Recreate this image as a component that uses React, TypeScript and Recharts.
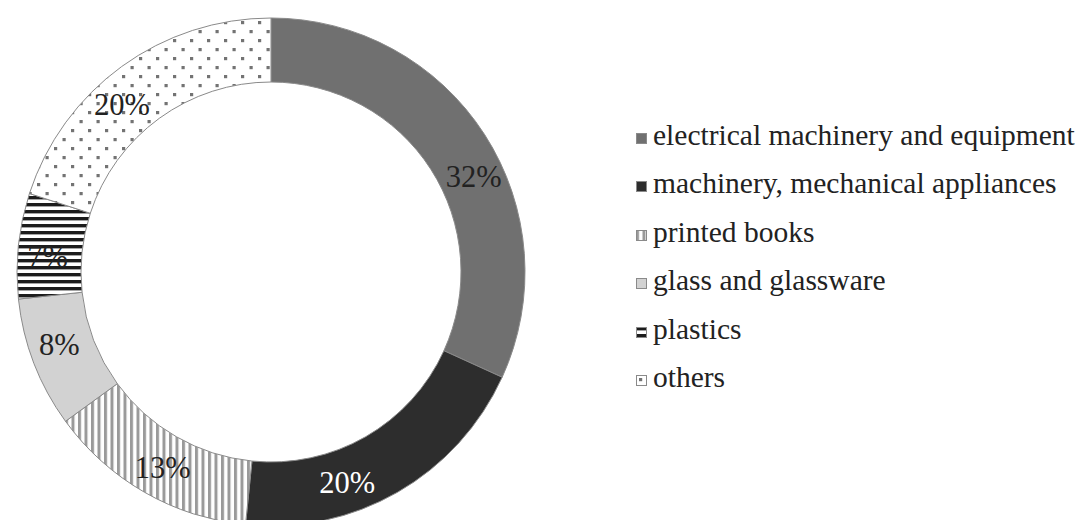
import { PieChart, Pie, Cell, Legend } from 'recharts';

const categories = [
  'electrical machinery and equipment',
  'machinery, mechanical appliances',
  'printed books',
  'glass and glassware',
  'plastics',
  'others',
];
const shares = [31.8, 19.8, 13.4, 8.3, 6.7, 20.0];

const FILLS = ['#707070', '#2d2d2d', 'url(#vstripe)', '#d2d2d2', 'url(#hstripe)', 'url(#dots)'];
const LABEL_COLORS = ['#222', '#fff', '#222', '#222', '#222', '#222'];
// Excel pushes some labels a bit off the slice middle (degrees, clockwise)
const LABEL_TURN = [7.6, 10, -1, 2, -2, -5.7];

const data = categories.map((name, i) => ({ name, value: shares[i] }));

const FONT = 'Liberation Serif, DejaVu Serif, Times New Roman, Times, serif';
const RAD = Math.PI / 180;

const renderLabel = (props: any) => {
  const { cx, cy, midAngle, innerRadius, outerRadius, percent, index } = props;
  const r = (innerRadius + outerRadius) / 2 + 2;
  const a = (midAngle - LABEL_TURN[index]) * RAD;
  const x = cx + r * Math.cos(a);
  const y = cy - r * Math.sin(a);
  return (
    <text
      x={x}
      y={y}
      textAnchor="middle"
      dominantBaseline="central"
      fill={LABEL_COLORS[index]}
      fontFamily={FONT}
      fontSize={30.5}
    >
      {`${Math.round(percent * 100)}%`}
    </text>
  );
};

const LegendList = () => (
  <div style={{ fontFamily: FONT, fontSize: 29.5, color: '#222' }}>
    {data.map((d, i) => (
      <div key={d.name} style={{ height: 48.5, display: 'flex', alignItems: 'center', whiteSpace: 'nowrap' }}>
        <svg width={11} height={11} style={{ marginRight: 6, marginTop: 6 }}>
          <rect x={0.5} y={0.5} width={10} height={10} fill={FILLS[i]} stroke="#8a8a8a" />
        </svg>
        <span>{d.name}</span>
      </div>
    ))}
  </div>
);

export default function App() {
  return (
    <div style={{ position: 'absolute', left: 0, top: 0, background: '#fff' }}>
      <PieChart width={1077} height={520}>
        <defs>
          <pattern id="vstripe" width={6.5} height={6} patternUnits="userSpaceOnUse">
            <rect width={6.5} height={6} fill="#fff" />
            <rect x={0} y={0} width={3} height={6} fill="#9a9a9a" />
          </pattern>
          <pattern id="hstripe" width={6} height={7} patternUnits="userSpaceOnUse">
            <rect width={6} height={7} fill="#fff" />
            <rect x={0} y={0} width={6} height={3.4} fill="#1c1c1c" />
          </pattern>
          <pattern id="dots" width={17} height={18} patternUnits="userSpaceOnUse">
            <rect width={17} height={18} fill="#fff" />
            <rect x={3} y={3} width={3.2} height={3.2} fill="#737373" />
            <rect x={11.5} y={12} width={3.2} height={3.2} fill="#737373" />
          </pattern>
        </defs>
        <Pie
          data={data}
          dataKey="value"
          nameKey="name"
          cx={266}
          cy={267}
          innerRadius={190}
          outerRadius={254}
          startAngle={90}
          endAngle={-270}
          stroke="#8a8a8a"
          strokeWidth={1}
          labelLine={false}
          label={renderLabel}
          isAnimationActive={false}
        >
          {data.map((d, i) => (
            <Cell key={d.name} fill={FILLS[i]} />
          ))}
        </Pie>
        <Legend
          layout="vertical"
          content={<LegendList />}
          wrapperStyle={{ left: 636, top: 111, width: 441 }}
        />
      </PieChart>
    </div>
  );
}
